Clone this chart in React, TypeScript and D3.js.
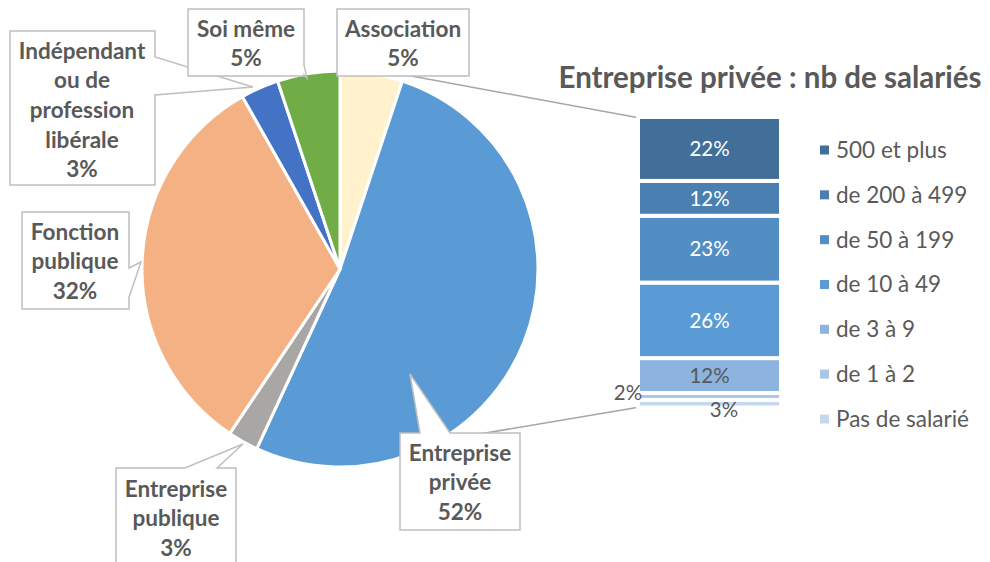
import React from "react";
import * as d3 from "d3";

const pieCategories = ["Association", "Entreprise privée", "Entreprise publique", "Fonction publique", "Indépendant ou de profession libérale", "Soi même"];
const pieValues = [5.1, 51.8, 2.5, 32.4, 3.1, 5.1];
const pieColors = ["#FFF2CC", "#5B9BD5", "#A9A7A6", "#F4B183", "#4472C4", "#70AD47"];

const barCategories = ["Pas de salarié", "de 1 à 2", "de 3 à 9", "de 10 à 49", "de 50 à 199", "de 200 à 499", "500 et plus"];
const barValues = [2.6, 2.4, 12, 26, 23, 12, 22];
const barColors = ["#C6D8EE", "#A9C5E7", "#8DB3DF", "#5B9BD5", "#528DC4", "#4A7FB1", "#416F9A"];

const title = "Entreprise privée : nb de salariés";

const FONT = "Lato, 'Open Sans', sans-serif";
const GREY_TXT = "#595959";
const BOX = "#BFBFBF";

type Side = "top" | "right" | "bottom";
function callout(x: number, y: number, w: number, h: number, side: Side, a: number, b: number, tip: [number, number]) {
  const p = d3.path();
  if (side === "top") {
    p.moveTo(x, y); p.lineTo(x + a, y); p.lineTo(tip[0], tip[1]); p.lineTo(x + b, y);
    p.lineTo(x + w, y); p.lineTo(x + w, y + h); p.lineTo(x, y + h); p.closePath();
  } else if (side === "right") {
    p.moveTo(x, y); p.lineTo(x + w, y); p.lineTo(x + w, y + a); p.lineTo(tip[0], tip[1]);
    p.lineTo(x + w, y + b); p.lineTo(x + w, y + h); p.lineTo(x, y + h); p.closePath();
  } else {
    p.moveTo(x, y); p.lineTo(x + w, y); p.lineTo(x + w, y + h); p.lineTo(x + b, y + h);
    p.lineTo(tip[0], tip[1]); p.lineTo(x + a, y + h); p.lineTo(x, y + h); p.closePath();
  }
  return p.toString();
}

export default function App() {
  const W = 990, H = 562;
  const cx = 340, cy = 269, R = 198;
  const pie = d3.pie<number>().sort(null).startAngle(0).endAngle(2 * Math.PI)(pieValues);
  const arc = d3.arc<d3.PieArcDatum<number>>().innerRadius(0).outerRadius(R);

  const pct = (v: number) => `${Math.round(v)}%`;

  const total = d3.sum(barValues);
  const y = d3.scaleLinear().domain([0, total]).range([407.5, 117]);
  const barX0 = 638, barX1 = 781;
  const cum = d3.cumsum(barValues);
  const segs = barValues.map((v, i) => ({ v, i, y0: i === 0 ? 0 : cum[i - 1], y1: cum[i] }));

  const legendOrder = [...barCategories.keys()].reverse();
  const legendY = d3.scalePoint<number>().domain(legendOrder).range([150, 419]);

  const LF = 22.5;
  const boxes = [
    { path: callout(337, 9, 132, 67, "top", 0, 0, [337, 9]), lines: ["Association", pct(pieValues[0])], cx: 403, y0: 29 },
    { path: callout(10, 31, 145, 154, "right", 26, 64, [253, 87]), lines: ["Indépendant", "ou de", "profession", "libérale", pct(pieValues[4])], cx: 82, y0: 51 },
    { path: callout(188, 9, 116, 67, "right", 56, 66, [307, 78]), lines: ["Soi même", pct(pieValues[5])], cx: 246, y0: 29 },
    { path: callout(22, 212, 107, 97, "right", 56, 85, [141, 262]), lines: ["Fonction", "publique", pct(pieValues[3])], cx: 75, y0: 232 },
    { path: callout(116, 468, 120, 110, "top", 69, 101, [243, 444]), lines: ["Entreprise", "publique", pct(pieValues[2])], cx: 176, y0: 489 },
    { path: callout(400, 433, 120, 97, "top", 20, 50, [410, 374]), lines: ["Entreprise", "privée", pct(pieValues[1])], cx: 460, y0: 453 },
  ];

  return (
    <svg width={W} height={H} style={{ position: "absolute", left: 0, top: 0, background: "#fff" }} fontFamily={FONT}>
      <rect width={W} height={H} fill="#fff" />
      <g transform={`translate(${cx},${cy})`}>
        {pie.map((d, i) => (
          <path key={i} d={arc(d) || ""} fill={pieColors[i]} stroke="#fff" strokeWidth={3} strokeLinejoin="round">
            <title>{pieCategories[i]}</title>
          </path>
        ))}
      </g>
      <line x1={395} y1={73} x2={637} y2={117.5} stroke="#A6A6A6" strokeWidth={1.5} />
      <line x1={438} y1={441} x2={637} y2={407.5} stroke="#A6A6A6" strokeWidth={1.5} />

      {segs.map((s) => (
        <rect key={s.i} x={barX0} y={y(s.y1)} width={barX1 - barX0} height={y(s.y0) - y(s.y1)}
          fill={barColors[s.i]} stroke="#fff" strokeWidth={4} />
      ))}
      {segs.map((s) => {
        const mid = (y(s.y0) + y(s.y1)) / 2;
        let tx = (barX0 + barX1) / 2, ty = mid, fill = "#fff";
        if (s.i === 2) fill = GREY_TXT;
        if (s.i === 1) { tx = 628; ty = 393; fill = GREY_TXT; }
        if (s.i === 0) { tx = 724; ty = 410; fill = GREY_TXT; }
        return (
          <text key={s.i} x={tx} y={ty} dy="0.35em" textAnchor="middle" fontSize={20.5} fill={fill}>{pct(s.v)}</text>
        );
      })}

      <text x={770} y={78} dy="0.35em" textAnchor="middle" fontSize={29.5} fontWeight="bold" fill={GREY_TXT}>{title}</text>

      {legendOrder.map((i) => (
        <g key={i} transform={`translate(820,${legendY(i)})`}>
          <rect x={0} y={-4.5} width={9} height={9} fill={barColors[i]} />
          <text x={16} y={0} dy="0.35em" fontSize={22.5} fill={GREY_TXT}>{barCategories[i]}</text>
        </g>
      ))}

      {boxes.map((b, k) => (
        <g key={k}>
          <path d={b.path} fill="#fff" stroke={BOX} strokeWidth={1.5} strokeLinejoin="miter" />
          {b.lines.map((t, j) => (
            <text key={j} x={b.cx} y={b.y0 + j * 29.6} dy="0.35em" textAnchor="middle" fontSize={LF} fontWeight="bold" fill={GREY_TXT}>{t}</text>
          ))}
        </g>
      ))}
    </svg>
  );
}
